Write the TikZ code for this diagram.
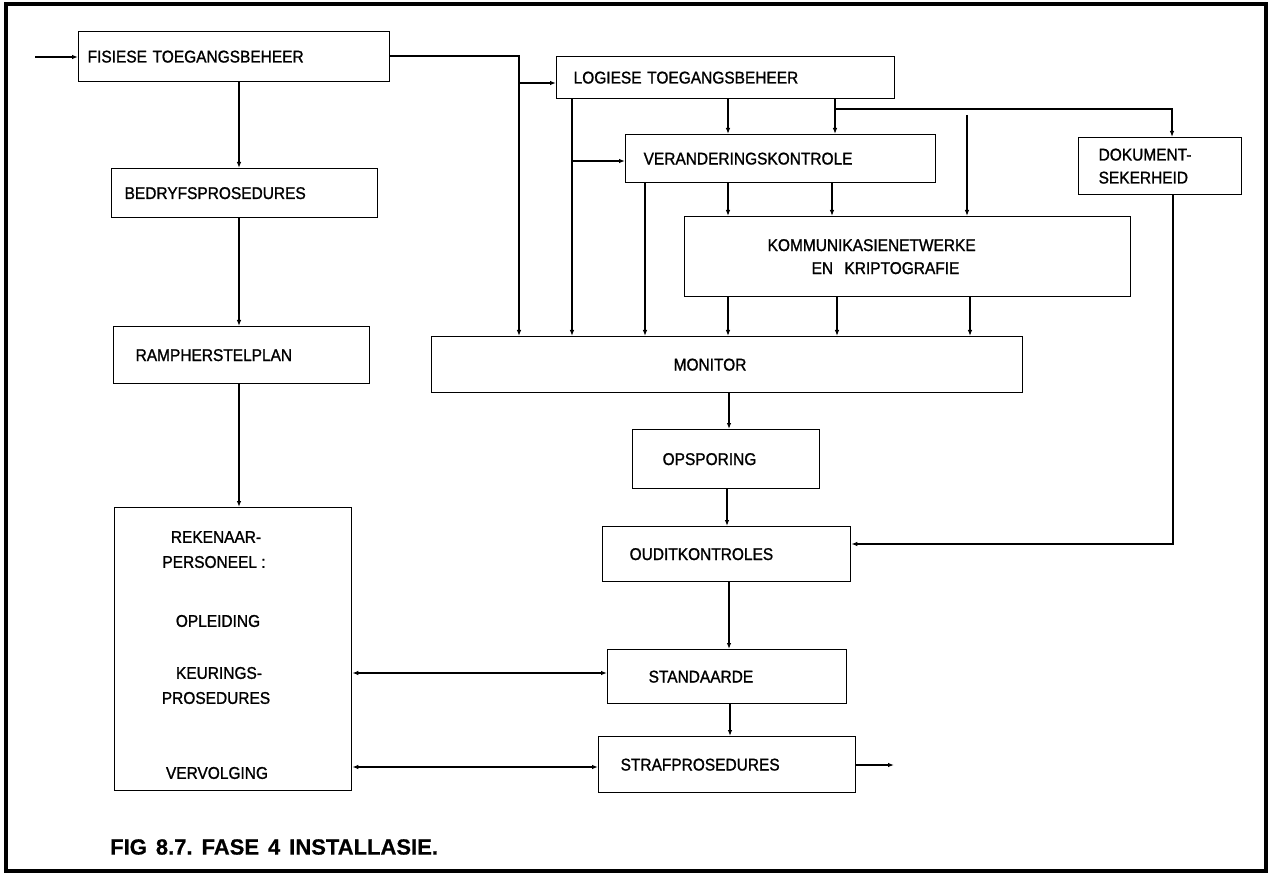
\documentclass[tikz,border=0pt]{standalone}
\usepackage{fontspec}
\setmainfont{Liberation Sans}
\newfontfamily\boxfont[FakeStretch=0.91, FakeBold=1.2]{Liberation Sans}
\newfontfamily\capfont[FakeBold=0.6]{Liberation Sans}
\usetikzlibrary{arrows.meta}

% framed box: name, left, top, width, height, left padding, text
\newcommand\flowbox[7]{%
  \node[box, anchor=north west, minimum width=#4pt, minimum height=#5pt,
        text width=#4pt] (#1) at (#2,#3) {\hspace*{#6pt}#7};}

\begin{document}
\begin{tikzpicture}[x=1pt, y=-1pt,
  box/.style={draw, line width=1.3pt, rectangle, inner xsep=0pt, inner ysep=0pt,
              align=left, font=\boxfont\fontsize{17}{23}\selectfont},
  txt/.style={inner sep=0pt, font=\boxfont\fontsize{17}{19}\selectfont},
  arr/.style={line width=1.1pt, -{Latex[length=6pt, width=4.5pt]}},
  arrtwo/.style={line width=1.1pt, {Latex[length=6pt, width=4.5pt]}-{Latex[length=6pt, width=4.5pt]}},
  plain/.style={line width=1.1pt}]

\useasboundingbox (0,0) rectangle (1275,877);
\fill[white] (0,0) rectangle (1275,877);
\draw[line width=3.5pt] (6,4) rectangle (1266,871);

% left column
\flowbox{fis}{78}{31}{311}{50}{9}{FISIESE TOEGANGSBEHEER}
\flowbox{bed}{111}{168}{266}{49}{13}{BEDRYFSPROSEDURES}
\flowbox{ramp}{113}{326}{256}{57}{22}{RAMPHERSTELPLAN}
\node[draw, line width=1.3pt, anchor=north west, minimum width=237pt,
      minimum height=283pt, inner sep=0pt] (rek) at (114,507) {};
\node[txt] (rekA) at (216,537) {REKENAAR-};
\node[txt] (rekB) at (214,562) {PERSONEEL :};
\node[txt] (rekC) at (218,621) {OPLEIDING};
\node[txt] (rekD) at (219,673) {KEURINGS-};
\node[txt] (rekE) at (216,698) {PROSEDURES};
\node[txt] (rekF) at (217,773) {VERVOLGING};

% right part
\flowbox{log}{556}{56}{338}{42}{17}{LOGIESE TOEGANGSBEHEER}
\flowbox{ver}{625}{134}{310}{48}{18}{VERANDERINGSKONTROLE}
\flowbox{dok}{1078}{137}{163}{57}{20}{DOKUMENT-\\\hspace*{20pt}SEKERHEID}
\flowbox{kom}{684}{216}{446}{80}{83}{KOMMUNIKASIENETWERKE\\\hspace*{127pt}EN\ \ KRIPTOGRAFIE}
\flowbox{mon}{431}{336}{591}{56}{242}{MONITOR}
\flowbox{ops}{632}{429}{187}{59}{30}{OPSPORING}
\flowbox{oud}{602}{526}{248}{55}{27}{OUDITKONTROLES}
\flowbox{sta}{607}{649}{239}{54}{41}{STANDAARDE}
\flowbox{str}{598}{736}{257}{56}{22}{STRAFPROSEDURES}

% caption
\node[anchor=west, inner sep=0pt, font=\capfont\fontsize{22}{26}\selectfont\bfseries] (cap)
  at (110,847) {FIG\hspace{9pt}8.7.\hspace{9pt}FASE\hspace{9pt}4\hspace{9pt}INSTALLASIE.};

% junction points
\coordinate (inA) at (35,57);
\coordinate (jA) at (519,56);
\coordinate (jB) at (519,83);
\coordinate (jC) at (572,161);
\coordinate (jD) at (835,109);
\coordinate (jDr) at (1172,109);
\coordinate (jE) at (967,115);
\coordinate (jF) at (1173,544);
\coordinate (outS) at (894,765);
\coordinate (jG) at (0,673);
\coordinate (jH) at (0,767);

% left column connectors
\draw[arr] (inA) -- (inA -| fis.west);
\draw[arr] (239,0 |- fis.south) -- (239,0 |- bed.north);
\draw[arr] (239,0 |- bed.south) -- (239,0 |- ramp.north);
\draw[arr] (239,0 |- ramp.south) -- (239,0 |- rek.north);

% physical access feeds logical access and monitor
\draw[arr] (fis.east |- jA) -- (jA) -- (519,0 |- mon.north);
\draw[arr] (jB) -- (jB -| log.west);

% logical access outputs
\draw[arr] (572,0 |- log.south) -- (572,0 |- mon.north);
\draw[arr] (jC) -- (jC -| ver.west);
\draw[arr] (728,0 |- log.south) -- (728,0 |- ver.north);
\draw[plain] (835,0 |- log.south) -- (jD);
\draw[arr] (jD) -- (835,0 |- ver.north);
\draw[arr] (jD) -- (jDr) -- (1172,0 |- dok.north);
\draw[arr] (jE) -- (967,0 |- kom.north);

% change control outputs
\draw[arr] (645,0 |- ver.south) -- (645,0 |- mon.north);
\draw[arr] (728,0 |- ver.south) -- (728,0 |- kom.north);
\draw[arr] (832,0 |- ver.south) -- (832,0 |- kom.north);

% communications into monitor
\draw[arr] (728,0 |- kom.south) -- (728,0 |- mon.north);
\draw[arr] (837,0 |- kom.south) -- (837,0 |- mon.north);
\draw[arr] (970,0 |- kom.south) -- (970,0 |- mon.north);

% lower chain
\draw[arr] (729,0 |- mon.south) -- (729,0 |- ops.north);
\draw[arr] (727,0 |- ops.south) -- (727,0 |- oud.north);
\draw[arr] (1173,0 |- dok.south) -- (jF) -- (jF -| oud.east);
\draw[arr] (729,0 |- oud.south) -- (729,0 |- sta.north);
\draw[arr] (730,0 |- sta.south) -- (730,0 |- str.north);
\draw[arr] (str.east |- outS) -- (outS);

% personnel links
\draw[arrtwo] (rek.east |- jG) -- (sta.west |- jG);
\draw[arrtwo] (rek.east |- jH) -- (str.west |- jH);
\end{tikzpicture}
\end{document}
